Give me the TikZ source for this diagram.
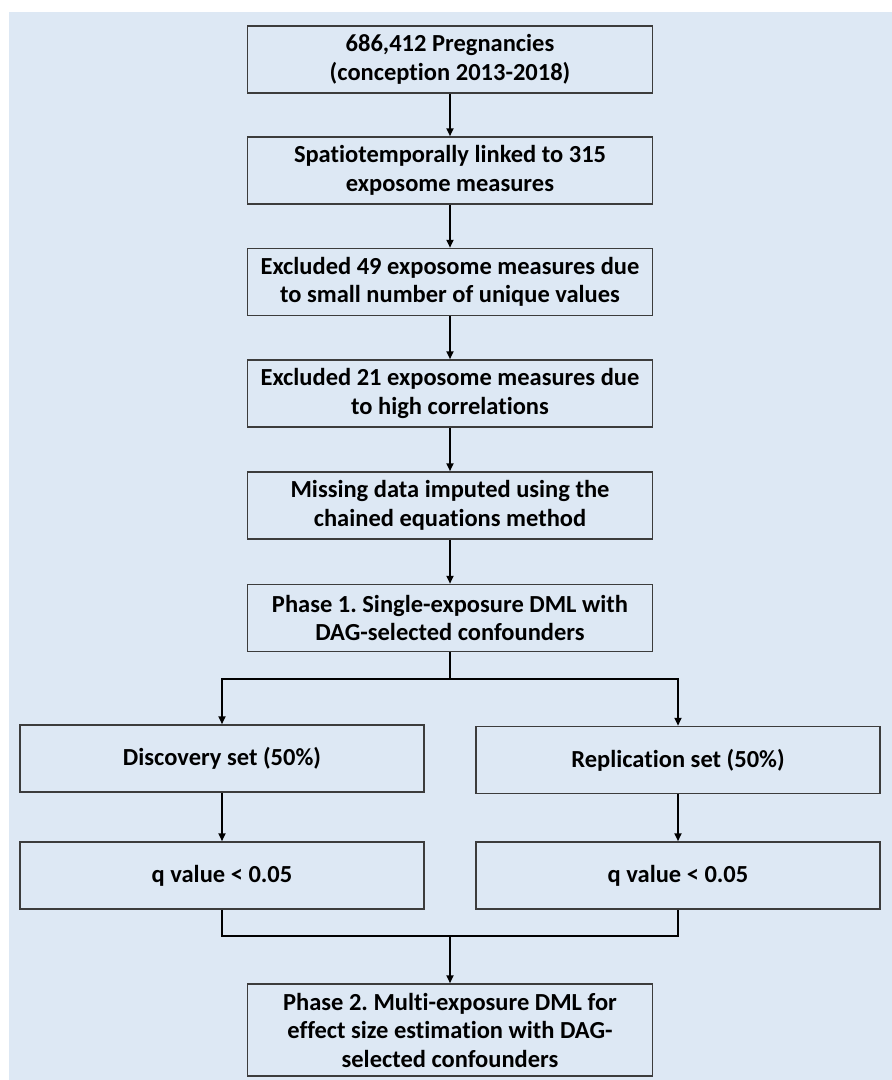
\documentclass[tikz,border=0pt]{standalone}
\usepackage{fontspec}
\setmainfont{Carlito}[Ligatures = NoCommon]
\usetikzlibrary{arrows.meta}
\tikzset{>={Triangle[length=8pt,width=7pt]}}
\definecolor{panelBlue}{HTML}{DDE8F4}
\definecolor{boxGray}{HTML}{3C3C3C}
\frenchspacing

\begin{document}
\begin{tikzpicture}[
    x = 1pt,
    y = -1pt,
    align = center,
    every node/.style = {draw = boxGray, line width = 1.5pt, inner sep = 0pt,
      font = \bfseries\fontsize{24.5}{28.5}\selectfont},
    wide/.style = {minimum width = 405pt, minimum height = 67pt},
    half/.style = {minimum width = 404pt, minimum height = 67pt},
    link/.style = {line width = 2.2pt},
    flow/.style = {->, line width = 2.2pt}
  ]
    \useasboundingbox (0, 0) rectangle (892, 1080);
    \fill[panelBlue] (9, 12) rectangle (892, 1080);
    \node[wide] (pregnancies) at (450, 59.5) {686,412 Pregnancies\\(conception 2013-2018)};
    \node[wide] (linked) at (450, 170.5) {Spatiotemporally linked to 315\\exposome measures};
    \node[wide] (unique_values) at (450, 282) {Excluded 49 exposome measures due\\to small number of unique values};
    \node[wide] (correlations) at (450, 393.5) {Excluded 21 exposome measures due\\to high correlations};
    \node[wide] (imputed) at (450, 505.5) {Missing data imputed using the\\chained equations method};
    \node[wide] (phase_one) at (450, 618) {Phase 1. Single-exposure DML with\\DAG-selected confounders};
    \node[half] (discovery) at (222, 758.5) {Discovery set (50\%)};
    \node[half] (replication) at (678, 760) {Replication set (50\%)};
    \node[half] (q_discovery) at (222, 875.5) {q value < 0.05};
    \node[half] (q_replication) at (678, 875.5) {q value < 0.05};
    \node[wide, minimum height = 92pt] (phase_two) at (450, 1030) {Phase 2. Multi-exposure DML for\\effect size estimation with DAG-\\selected confounders};
    \coordinate (split) at (450, 679);
    \coordinate (merge) at (450, 936);
    \draw[flow] (pregnancies) -- (linked);
    \draw[flow] (linked) -- (unique_values);
    \draw[flow] (unique_values) -- (correlations);
    \draw[flow] (correlations) -- (imputed);
    \draw[flow] (imputed) -- (phase_one);
    \draw[link] (phase_one) -- (split);
    \draw[flow] (split) -| (discovery);
    \draw[flow] (split) -| (replication);
    \draw[flow] (discovery) -- (q_discovery);
    \draw[flow] (replication) -- (q_replication);
    \draw[link] (q_discovery) |- (merge);
    \draw[link] (q_replication) |- (merge);
    \draw[flow] (merge) -- (phase_two);
  \end{tikzpicture}
\end{document}
